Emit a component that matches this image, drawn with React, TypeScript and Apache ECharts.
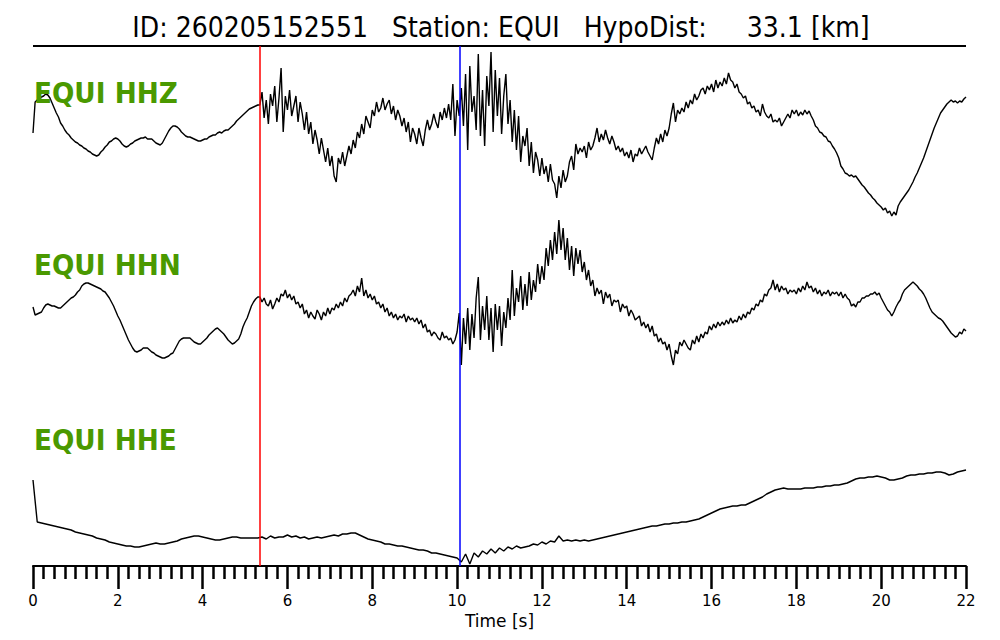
import React, { useEffect, useRef } from "react";
import * as echarts from "echarts";

// ---- metadata ----
const TITLE = "ID: 260205152551   Station: EQUI   HypoDist:     33.1 [km]";
const TRACE_NAMES = ["EQUI HHZ", "EQUI HHN", "EQUI HHE"];
const X_TITLE = "Time [s]";
const T_MIN = 0;
const T_MAX = 22;
const T_STEP = 2;
const P_PICK = 5.35;
const S_PICK = 10.06;

// ---- trace samples (relative amplitude) ----
const HHZ_DT = 0.05;
const HHZ = [
  3, 34, 36, 37, 39, 40, 42, 41, 38, 33, 28, 23, 19, 13, 10, 6, 3, 1, -2, -4,
  -6, -7, -9, -10, -12, -13, -15, -16, -18, -19, -20, -19, -16, -14, -11, -9, -6, -5, -3, -2,
  -3, -5, -8, -10, -11, -10, -8, -7, -5, -4, -3, -2, -2, -1, -3, -3, -3, -5, -7, -8,
  -9, -7, -3, 1, 5, 8, 10, 10, 9, 7, 4, 2, 0, -1, -1, -2, -3, -4, -5, -5,
  -4, -3, -3, -1, 0, 1, 1, 3, 4, 3, 5, 6, 6, 8, 10, 12, 15, 17, 19, 21,
  23, 25, 27, 28, 29, 30, 31, 31, 44, 18, 36, 12, 42, 30, 50, 14, 38, 68, 4, 40,
  26, 46, 20, 30, 40, 14, 34, 22, 6, 24, 2, 14, -8, 6, -4, -18, -2, -14, -26, -12,
  -30, -20, -40, -46, -22, -28, -16, -30, -20, -10, -18, -4, -12, 4, -2, 12, 2, 20, 14, 8,
  26, 20, 34, 24, 28, 38, 26, 32, 36, 22, 30, 16, 26, 20, 10, 18, 4, 14, -6, 8,
  2, -8, 8, -2, -10, 6, 16, 6, 12, 22, 14, 8, 24, 16, 28, 18, 32, 16, 52, 0,
  36, 20, 48, 10, 62, -14, 70, 24, 40, 6, 82, 0, 46, -10, 60, 30, 84, 4, 66, 20,
  58, 2, 40, 62, 12, 36, -6, 26, -14, 20, -26, 0, -10, 8, -30, -6, -37, -16, -24, -40,
  -22, -38, -30, -46, -28, -44, -48, -62, -40, -52, -34, -46, -40, -26, -20, -34, -8, -18, -12, -16,
  -10, -22, -6, -14, -10, -2, 8, -6, 2, -4, 6, -2, -8, 0, -6, -14, -10, -16, -12, -20,
  -16, -22, -14, -26, -18, -20, -12, -18, -14, -10, -16, -20, -24, -12, -2, -8, 2, -6, 6, 0,
  8, 22, 33, 14, 26, 22, 28, 24, 34, 28, 36, 32, 42, 36, 40, 46, 48, 42, 50, 46,
  52, 44, 56, 48, 54, 50, 58, 52, 63, 56, 54, 48, 52, 44, 42, 38, 40, 32, 34, 28,
  30, 24, 26, 20, 32, 24, 20, 18, 22, 14, 16, 14, 18, 10, 14, 18, 22, 18, 26, 22,
  26, 20, 24, 21, 26, 22, 25, 20, 16, 10, 8, 4, 3, 0, -1, -5, -6, -10, -13, -17,
  -22, -30, -33, -37, -38, -40, -39, -41, -40, -43, -46, -49, -51, -54, -57, -59, -62, -64, -67, -69,
  -71, -74, -72, -77, -75, -80, -76, -79, -70, -66, -63, -60, -57, -54, -50, -46, -41, -37, -32, -27,
  -22, -16, -10, -4, 2, 8, 13, 18, 23, 26, 29, 32, 34, 36, 34, 35, 33, 35, 34, 37,
  39,
];

const HHN_DT = 0.05;
const HHN = [
  3, -5, -4, -3, -2, 2, 5, 6, 5, 4, 4, 3, 2, 2, 4, 6, 8, 10, 12, 13,
  15, 18, 20, 24, 26, 27, 27, 26, 25, 24, 23, 22, 21, 19, 18, 15, 12, 8, 4, -1,
  -6, -10, -15, -20, -25, -30, -34, -38, -41, -42, -41, -40, -38, -38, -38, -40, -42, -43, -45, -46,
  -47, -48, -48, -47, -46, -44, -43, -39, -35, -31, -29, -28, -28, -28, -28, -30, -32, -33, -34, -34,
  -32, -30, -28, -25, -23, -21, -19, -18, -20, -22, -24, -27, -30, -32, -34, -33, -31, -29, -24, -17,
  -12, -8, -2, 4, 8, 11, 13, 13, 8, 12, 6, 4, 10, 1, 6, 12, 8, 16, 14, 20,
  12, 16, 10, 14, 6, 8, 2, 6, -4, 0, -8, -2, -6, -9, 0, -4, -10, -2, -6, 2,
  -4, 2, 0, 6, 2, 8, 4, 12, 8, 14, 16, 20, 14, 24, 18, 32, 14, 20, 12, 16,
  10, 14, 6, 8, 2, 6, -2, 2, -6, -2, -8, -4, -10, -6, -8, -4, -12, -6, -10, -8,
  -12, -8, -14, -10, -18, -14, -22, -20, -26, -22, -24, -28, -30, -22, -28, -26, -30, -28, -34, -30,
  -22, -3, -55, -8, -34, 2, -40, -4, -28, 12, 33, -30, 4, -20, 14, -30, 2, -42, 6, -20,
  4, -36, -2, -18, 12, -10, 40, -6, 22, 8, 34, 0, 26, 4, 38, 10, 30, 18, 46, 26,
  44, 30, 62, 44, 70, 50, 78, 56, 90, 60, 82, 50, 72, 40, 64, 34, 62, 46, 60, 38,
  48, 30, 40, 24, 30, 14, 22, 16, 20, 6, 18, 12, 16, 4, 10, 8, 10, -2, 6, 2,
  4, -6, 0, -4, -10, -8, -6, -16, -12, -18, -14, -22, -16, -26, -24, -32, -28, -34, -32, -40,
  -34, -46, -55, -40, -44, -32, -36, -30, -34, -38, -40, -30, -34, -26, -32, -24, -28, -22, -24, -16,
  -20, -14, -18, -12, -16, -12, -15, -10, -14, -8, -13, -10, -12, -6, -10, -4, -8, -2, -4, 2,
  0, 6, 4, 10, 8, 16, 14, 20, 22, 30, 20, 26, 18, 24, 20, 22, 16, 20, 18, 20,
  16, 22, 18, 24, 20, 28, 22, 24, 18, 22, 16, 20, 14, 18, 16, 20, 14, 18, 16, 18,
  14, 18, 12, 16, 12, 10, 4, 6, 3, 8, 8, 12, 12, 14, 14, 16, 16, 18, 15, 17,
  12, 8, 4, 0, -2, -6, -2, 3, 7, 10, 16, 20, 22, 24, 26, 28, 26, 24, 21, 19,
  16, 12, 7, 2, -2, -4, -6, -8, -9, -11, -14, -17, -20, -23, -25, -27, -26, -22, -24, -19,
  -21,
];

const HHE_DT = 0.1;
const HHE = [
  40, -2, -3, -4, -5, -6, -7, -8, -9, -10,
  -12, -13, -14, -15, -16, -18, -19, -20, -22, -23,
  -24, -25, -26, -26, -27, -27, -26, -25, -24, -23,
  -24, -24, -23, -22, -21, -19, -18, -17, -16, -16,
  -17, -18, -19, -20, -20, -19, -18, -17, -17, -18,
  -18, -18, -18, -18, -17, -19, -16, -18, -17, -17,
  -15, -17, -16, -18, -17, -19, -18, -17, -18, -17,
  -16, -15, -16, -14, -14, -13, -13, -15, -17, -19,
  -20, -21, -22, -24, -24, -25, -26, -26, -27, -28,
  -29, -30, -30, -31, -33, -33, -34, -35, -36, -37,
  -38, -42, -34, -44, -33, -37, -31, -34, -29, -33,
  -28, -31, -27, -29, -26, -28, -27, -26, -24, -25,
  -22, -24, -21, -22, -16, -21, -20, -21, -20, -21,
  -20, -21, -20, -19, -18, -17, -16, -15, -14, -13,
  -12, -11, -10, -9, -8, -7, -6, -6, -5, -4,
  -4, -3, -3, -2, -2, -1, 0, 1, 3, 5,
  7, 9, 11, 12, 13, 14, 14, 15, 15, 17,
  19, 21, 23, 26, 28, 30, 31, 32, 31, 31,
  31, 31, 32, 32, 32, 33, 33, 34, 34, 35,
  35, 36, 37, 39, 41, 42, 42, 43, 43, 44,
  43, 42, 40, 40, 41, 42, 44, 45, 45, 46,
  46, 47, 47, 48, 48, 47, 45, 46, 48, 49,
  50,
];

const toPairs = (vals: number[], dt: number) =>
  vals.map((v, i) => [Math.round(i * dt * 1000) / 1000, v]);

// layout of the three trace bands (px)
const BANDS = [
  { top: 46, height: 190, min: -100, max: 90, labelY: 93 },
  { top: 216, height: 170, min: -76, max: 94, labelY: 265 },
  { top: 440, height: 126, min: -46, max: 80, labelY: 440 },
];
const LEFT = 33;
const RIGHT = 34;
const AXIS_Y = 566;

export default function App() {
  const ref = useRef<HTMLDivElement>(null);
  useEffect(() => {
    if (!ref.current) return;
    const chart = echarts.init(ref.current, null, { renderer: "svg" });
    const traces = [toPairs(HHZ, HHZ_DT), toPairs(HHN, HHN_DT), toPairs(HHE, HHE_DT)];
    const font = "DejaVu Sans";

    const grids: any[] = [
      { left: LEFT, right: RIGHT, top: 46, bottom: 640 - AXIS_Y },
      ...BANDS.map((b) => ({ left: LEFT, right: RIGHT, top: b.top, height: b.height })),
    ];
    const xAxes: any[] = [
      {
        type: "value",
        gridIndex: 0,
        min: T_MIN,
        max: T_MAX,
        interval: T_STEP,
        axisLine: { show: true, lineStyle: { color: "#000", width: 2 } },
        axisTick: { show: true, length: 23, lineStyle: { color: "#000", width: 2.5 } },
        minorTick: { show: true, splitNumber: 8, length: 13, lineStyle: { color: "#000", width: 2.5 } },
        splitLine: { show: false },
        minorSplitLine: { show: false },
        axisLabel: {
          color: "#000",
          fontSize: 15,
          fontFamily: font,
          margin: 27,
          showMinLabel: true,
          showMaxLabel: true,
        },
        name: X_TITLE,
        nameLocation: "middle",
        nameGap: 44,
        nameTextStyle: { color: "#000", fontSize: 17, fontFamily: font },
      },
      ...BANDS.map((_, i) => ({
        type: "value",
        gridIndex: i + 1,
        min: T_MIN,
        max: T_MAX,
        show: false,
      })),
    ];
    const yAxes: any[] = [
      { type: "value", gridIndex: 0, min: 0, max: 1, show: false },
      ...BANDS.map((b, i) => ({ type: "value", gridIndex: i + 1, min: b.min, max: b.max, show: false })),
    ];

    const series: any[] = traces.map((data, i) => ({
      type: "line",
      name: TRACE_NAMES[i],
      xAxisIndex: i + 1,
      yAxisIndex: i + 1,
      data,
      showSymbol: false,
      symbol: "none",
      clip: false,
      lineStyle: { color: "#000", width: 1.4 },
      z: 2,
    }));
    series.push({
      type: "line",
      name: "picks",
      xAxisIndex: 0,
      yAxisIndex: 0,
      data: [],
      z: 5,
      markLine: {
        silent: true,
        symbol: ["none", "none"],
        label: { show: false },
        lineStyle: { type: "solid", width: 1.5 },
        data: [
          { xAxis: P_PICK, lineStyle: { color: "#ff0000", type: "solid", width: 1.5 } },
          { xAxis: S_PICK, lineStyle: { color: "#0000ff", type: "solid", width: 1.5 } },
        ],
      },
    });

    const graphic: any[] = [
      {
        type: "text",
        x: 501,
        y: 27,
        scaleX: 0.9,
        style: {
          text: TITLE,
          fill: "#000",
          font: `28px "${font}"`,
          textAlign: "center",
          textVerticalAlign: "middle",
        },
      },
      {
        type: "line",
        shape: { x1: LEFT, y1: 46, x2: 1000 - RIGHT, y2: 46 },
        style: { stroke: "#000", lineWidth: 1.8 },
      },
      ...BANDS.map((b, i) => ({
        type: "text",
        x: 34,
        y: b.labelY,
        scaleX: 0.94,
        z: 10,
        style: {
          text: TRACE_NAMES[i],
          fill: "#4a9900",
          font: `bold 28px "${font}"`,
          textAlign: "left",
          textVerticalAlign: "middle",
        },
      })),
    ];

    chart.setOption({
      animation: false,
      backgroundColor: "#fff",
      grid: grids,
      xAxis: xAxes,
      yAxis: yAxes,
      series,
      graphic,
    });
    return () => chart.dispose();
  }, []);
  return (
    <div
      ref={ref}
      style={{ position: "absolute", left: 0, top: 0, width: 1000, height: 640 }}
    />
  );
}
